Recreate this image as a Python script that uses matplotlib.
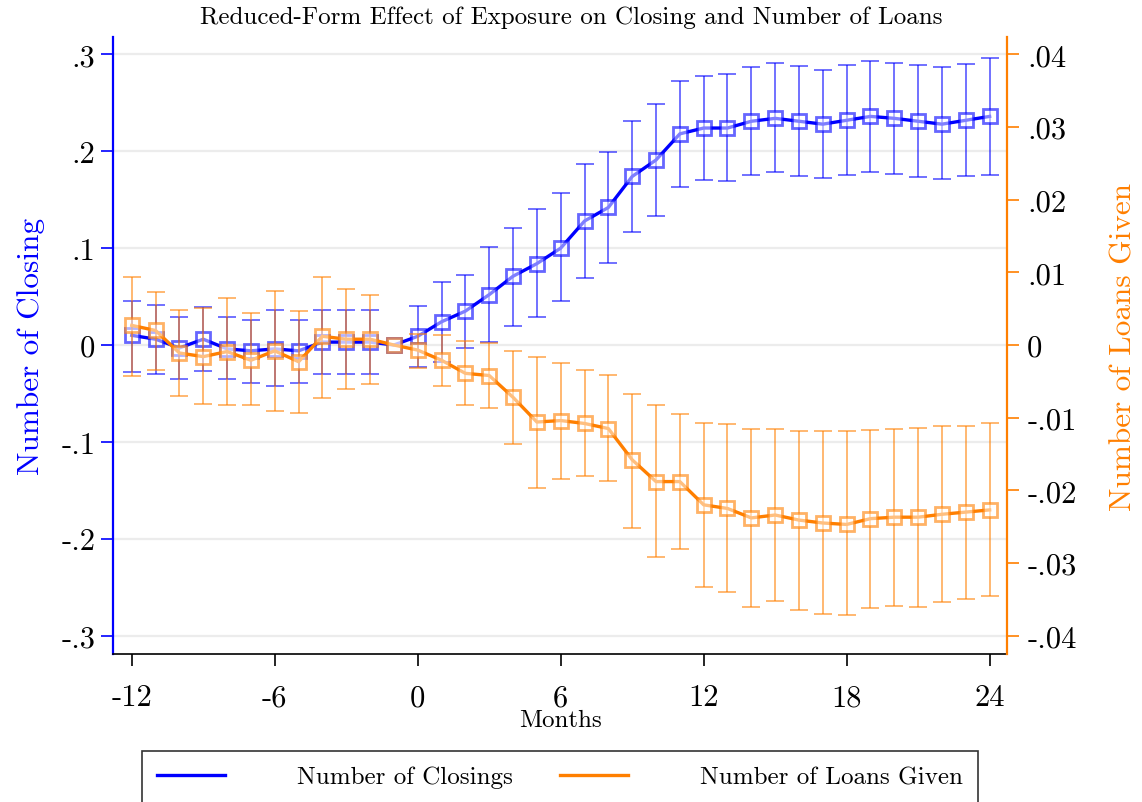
import numpy as np
import matplotlib
matplotlib.use("Agg")
import matplotlib.pyplot as plt
from matplotlib.lines import Line2D

plt.rcParams['font.family'] = ['cmr10', 'DejaVu Serif']
plt.rcParams['axes.formatter.use_mathtext'] = True

months = np.arange(-12, 25)

closing_coef = [0.010, 0.006, -0.003, 0.006, -0.004, -0.006, -0.004, -0.006, 0.003, 0.003, 0.003, 0.0,
                0.009, 0.024, 0.035, 0.052, 0.071, 0.084, 0.100, 0.128, 0.142, 0.174, 0.191, 0.218,
                0.224, 0.224, 0.231, 0.234, 0.231, 0.228, 0.232, 0.236, 0.234, 0.231, 0.228, 0.232, 0.236]
closing_hi = [0.045, 0.041, 0.029, 0.039, 0.029, 0.026, 0.036, 0.026, 0.036, 0.036, 0.036, 0.0,
              0.040, 0.065, 0.072, 0.101, 0.121, 0.140, 0.157, 0.187, 0.199, 0.231, 0.249, 0.273,
              0.278, 0.280, 0.287, 0.291, 0.288, 0.284, 0.289, 0.293, 0.291, 0.289, 0.287, 0.290, 0.296]
closing_lo = [-0.028, -0.030, -0.035, -0.027, -0.035, -0.039, -0.042, -0.039, -0.030, -0.030, -0.030, 0.0,
              -0.023, -0.018, -0.003, 0.003, 0.020, 0.029, 0.045, 0.069, 0.085, 0.117, 0.133, 0.163,
              0.170, 0.169, 0.175, 0.179, 0.174, 0.172, 0.175, 0.179, 0.177, 0.173, 0.171, 0.174, 0.176]

loans_coef = [0.0027, 0.0020, -0.0011, -0.0016, -0.0009, -0.0021, -0.0008, -0.0023, 0.0012, 0.0008, 0.0008, 0.0,
              -0.0007, -0.0021, -0.0039, -0.0042, -0.0072, -0.0106, -0.0104, -0.0108, -0.0115, -0.0158, -0.0188, -0.0188,
              -0.0220, -0.0225, -0.0238, -0.0234, -0.0241, -0.0245, -0.0247, -0.0239, -0.0237, -0.0237, -0.0233, -0.0230, -0.0227]
loans_hi = [0.0094, 0.0073, 0.0048, 0.0051, 0.0065, 0.0044, 0.0074, 0.0047, 0.0093, 0.0077, 0.0069, 0.0,
            0.0015, 0.0014, 0.0006, 0.0003, -0.0008, -0.0017, -0.0025, -0.0034, -0.0041, -0.0067, -0.0082, -0.0095,
            -0.0108, -0.0109, -0.0116, -0.0115, -0.0118, -0.0118, -0.0119, -0.0117, -0.0116, -0.0114, -0.0112, -0.0112, -0.0108]
loans_lo = [-0.0042, -0.0034, -0.0070, -0.0081, -0.0083, -0.0083, -0.0091, -0.0093, -0.0073, -0.0061, -0.0053, 0.0,
            -0.0031, -0.0056, -0.0083, -0.0087, -0.0136, -0.0197, -0.0184, -0.0180, -0.0187, -0.0252, -0.0292, -0.0281,
            -0.0333, -0.0340, -0.0360, -0.0353, -0.0365, -0.0370, -0.0372, -0.0362, -0.0359, -0.0360, -0.0354, -0.0349, -0.0345]

left_ticks = [-0.3, -0.2, -0.1, 0, 0.1, 0.2, 0.3]
left_labels = ['-.3', '-.2', '-.1', '0', '.1', '.2', '.3']
right_ticks = [-0.04, -0.03, -0.02, -0.01, 0, 0.01, 0.02, 0.03, 0.04]
right_labels = ['-.04', '-.03', '-.02', '-.01', '0', '.01', '.02', '.03', '.04']
x_ticks = [-12, -6, 0, 6, 12, 18, 24]

blue = '#0000ff'
orange = '#ff7f00'

fig = plt.figure(figsize=(11.42, 8.03), dpi=100)
ax = fig.add_axes([0.0989, 0.1843, 0.7829, 0.7684])
ax2 = ax.twinx()

mask = months != -1


def draw(a, y, lo, hi, color):
    y = np.asarray(y); lo = np.asarray(lo); hi = np.asarray(hi)
    err = [(y - lo)[mask], (hi - y)[mask]]
    a.errorbar(months[mask], y[mask], yerr=err, fmt='none', ecolor=color,
               elinewidth=1.3, capsize=6.5, capthick=1.3, alpha=0.6, zorder=2)
    a.plot(months, y, color=color, lw=2.4, zorder=3)
    a.plot(months, y, ls='none', marker='s', ms=10, mew=2.0,
           mfc=(1, 1, 1, 0.5), mec=matplotlib.colors.to_rgba(color, 0.6), zorder=4)


draw(ax, closing_coef, closing_lo, closing_hi, blue)
draw(ax2, loans_coef, loans_lo, loans_hi, orange)

ax.set_xlim(-12.79, 24.73)
ax.set_ylim(-0.319, 0.318)
ax2.set_ylim(-0.319 * 0.04 / 0.3, 0.318 * 0.04 / 0.3)

ax.set_yticks(left_ticks)
ax.set_yticklabels(left_labels, fontsize=22)
ax2.set_yticks(right_ticks)
ax2.set_yticklabels(right_labels, fontsize=22)
ax.set_xticks(x_ticks)
ax.set_xticklabels([str(t) for t in x_ticks], fontsize=22)

for a in (ax, ax2):
    a.spines['top'].set_visible(False)
ax.spines['left'].set_color(blue)
ax.spines['left'].set_linewidth(1.6)
ax.spines['bottom'].set_linewidth(1.2)
ax.spines['right'].set_visible(False)
ax2.spines['left'].set_visible(False)
ax2.spines['bottom'].set_visible(False)
ax2.spines['right'].set_color(orange)
ax2.spines['right'].set_linewidth(1.6)

ax.tick_params(axis='y', colors=blue, length=8.5, width=1.2, labelcolor='black', pad=4)
ax.tick_params(axis='x', length=8.5, width=1.2, pad=13)
ax2.tick_params(axis='y', colors=orange, length=8.5, width=1.2, labelcolor='black', pad=6)

ax.grid(axis='y', color='#ececec', lw=1.6)
ax.set_axisbelow(True)

ax.set_ylabel('Number of Closing', color=blue, fontsize=22.5, labelpad=12)
ax2.set_ylabel('Number of Loans Given', color=orange, fontsize=22.5, labelpad=24)
ax.set_xlabel('Months', fontsize=18, labelpad=-2)

fig.suptitle('Reduced-Form Effect of Exposure on Closing and Number of Loans', fontsize=18, y=0.992)

handles = [Line2D([], [], color=blue, lw=2.4), Line2D([], [], color=orange, lw=2.4)]
leg = fig.legend(handles, ['Number of Closings', 'Number of Loans Given'], loc='upper center',
                 bbox_to_anchor=(0.4905, 0.0636), ncol=2, fontsize=18, frameon=True, fancybox=False,
                 edgecolor='black', handlelength=2.7, columnspacing=1.9, borderpad=0.6, handletextpad=2.9,
                 borderaxespad=0)
leg.get_frame().set_linewidth(1.2)

fig.savefig('out.png', dpi=100)
